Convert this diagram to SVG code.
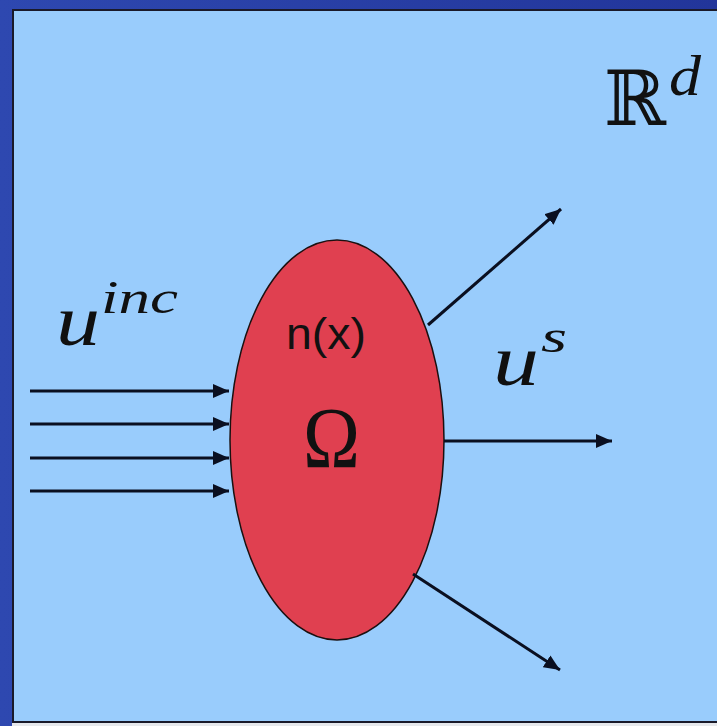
<svg xmlns="http://www.w3.org/2000/svg" width="717" height="726" viewBox="0 0 717 726">
<defs>
<linearGradient id="frame" x1="0" y1="0" x2="1" y2="0">
<stop offset="0" stop-color="#2e48b0"/><stop offset="1" stop-color="#22359a"/>
</linearGradient>
<marker id="ah" viewBox="0 0 16 14" refX="16" refY="7" markerWidth="16" markerHeight="14" markerUnits="userSpaceOnUse" orient="auto">
<path d="M0,0 L16,7 L0,14 z" fill="#0a0f20"/>
</marker>
<style>
.arr{stroke:#0a0f20;stroke-width:3;fill:none;marker-end:url(#ah)}
.math{font-family:"Liberation Serif","DejaVu Serif",serif;font-style:italic;fill:#101010}
</style>
</defs>
<rect x="0" y="0" width="717" height="726" fill="url(#frame)"/>
<rect x="12" y="723" width="705" height="3" fill="#e6e8ec"/>
<rect x="13" y="10" width="706" height="712" fill="#99ccfc" stroke="#1a1a2a" stroke-width="2"/>
<g id="domain">
<ellipse cx="337" cy="440" rx="107" ry="200" fill="#e04050" stroke="#1a1010" stroke-width="1.5"/>
<text x="326" y="349" font-family="Liberation Sans, Arial, sans-serif" font-size="44" fill="#111" text-anchor="middle" textLength="80" lengthAdjust="spacingAndGlyphs">n(x)</text>
<text x="303" y="467" font-family="Liberation Serif, DejaVu Serif, serif" font-size="86" fill="#111" textLength="57" lengthAdjust="spacingAndGlyphs">Ω</text>
</g>
<g id="connectors">
<line class="arr" x1="30" y1="391" x2="229" y2="391"/>
<line class="arr" x1="30" y1="424" x2="229" y2="424"/>
<line class="arr" x1="30" y1="458" x2="229" y2="458"/>
<line class="arr" x1="30" y1="491" x2="229" y2="491"/>
<line class="arr" x1="428" y1="325" x2="561" y2="209"/>
<line class="arr" x1="444" y1="441" x2="612" y2="441"/>
<line class="arr" x1="413" y1="574" x2="560" y2="670"/>
</g>
<g id="labels">
<text class="math" x="56" y="345" font-size="72" textLength="44" lengthAdjust="spacingAndGlyphs">u</text>
<text class="math" x="101" y="313" font-size="46" textLength="77" lengthAdjust="spacingAndGlyphs">inc</text>
<text class="math" x="493" y="385" font-size="72" textLength="46" lengthAdjust="spacingAndGlyphs">u</text>
<text class="math" x="541" y="352" font-size="46" textLength="26" lengthAdjust="spacingAndGlyphs">s</text>
<text x="604" y="125" font-family="DejaVu Serif, serif" font-size="76" fill="#111" textLength="62" lengthAdjust="spacingAndGlyphs">ℝ</text>
<text class="math" x="669" y="95" font-size="58" textLength="32" lengthAdjust="spacingAndGlyphs">d</text>
</g>
</svg>
